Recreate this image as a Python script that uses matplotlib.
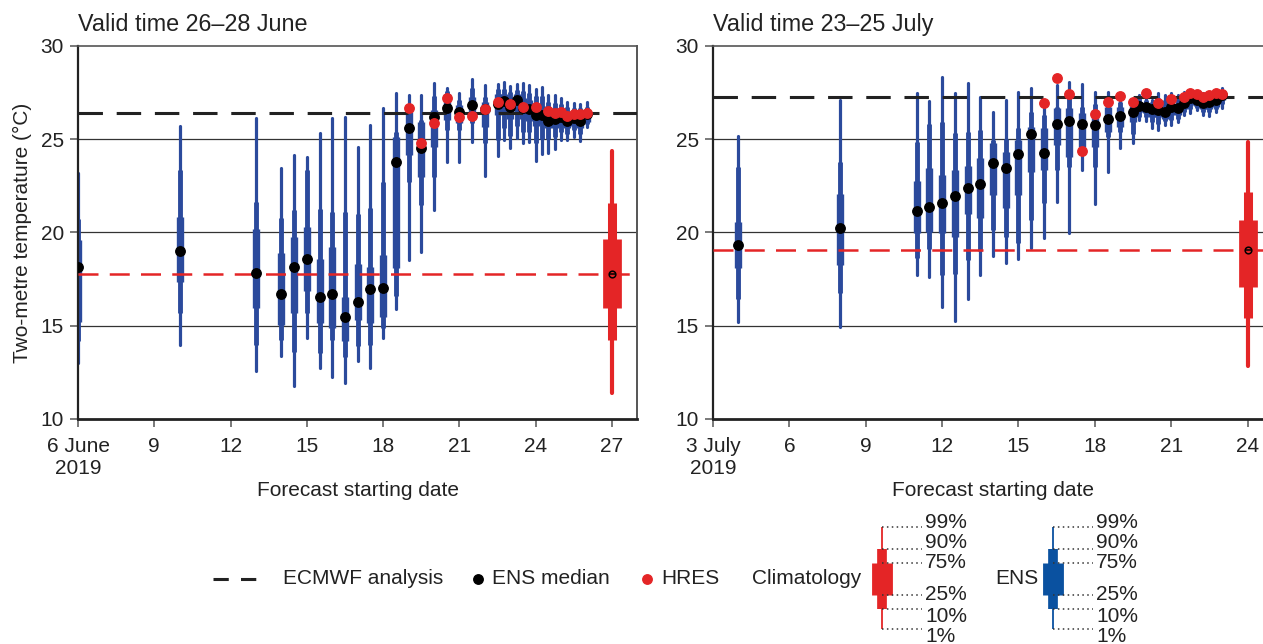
import matplotlib
matplotlib.use("Agg")
import matplotlib.pyplot as plt

plt.rcParams['font.family'] = ['Liberation Sans', 'DejaVu Sans']
plt.rcParams['text.color'] = '#222222'
plt.rcParams['axes.labelcolor'] = '#222222'
plt.rcParams['xtick.color'] = '#555555'
plt.rcParams['ytick.color'] = '#555555'
plt.rcParams['xtick.labelcolor'] = '#222222'
plt.rcParams['ytick.labelcolor'] = '#222222'

BLUE = '#2b4a9c'
RED = '#e42526'
LEG_BLUE = '#0a51a0'

# ---- June panel (valid 26-28 June) ----
jun_days = [6, 10, 13, 14, 14.5, 15, 15.5, 16, 16.5, 17, 17.5, 18, 18.5, 19, 19.5, 20,
            20.5, 21, 21.5, 22, 22.5, 22.75, 23, 23.25, 23.5, 23.75, 24, 24.25, 24.5,
            24.75, 25, 25.25, 25.5, 25.75, 26]
jun_p99 = [23.2, 25.73, 26.12, 23.44, 24.16, 24.07, 25.35, 26.16, 26.21, 24.6, 25.76, 26.66,
           27.5, 27.37, 27.37, 28.0, 27.73, 27.46, 28.21, 27.91, 27.96, 28.05, 27.86, 27.96,
           28.0, 27.91, 27.69, 27.78, 27.37, 27.37, 27.2, 27.0, 26.96, 26.89, 27.0]
jun_p90 = [20.7, 23.35, 21.65, 20.76, 21.2, 23.35, 21.26, 21.12, 21.12, 21.0, 21.3, 22.72,
           25.4, 26.8, 26.03, 27.3, 27.6, 27.1, 27.73, 27.28, 27.7, 27.7, 27.55, 27.65,
           27.6, 27.5, 27.3, 27.3, 27.0, 26.95, 26.9, 26.75, 26.7, 26.65, 26.75]
jun_p75 = [19.6, 20.85, 20.19, 18.92, 19.78, 20.31, 18.56, 19.2, 16.56, 18.3, 18.17, 18.79,
           25.1, 26.48, 25.94, 26.57, 27.4, 26.84, 27.28, 27.0, 27.4, 27.4, 27.2, 27.4,
           27.2, 27.1, 26.8, 26.8, 26.6, 26.6, 26.6, 26.45, 26.45, 26.4, 26.5]
jun_med = [18.17, 19.0, 17.85, 16.7, 18.15, 18.58, 16.56, 16.7, 15.49, 16.29, 16.99, 17.0,
           23.76, 25.59, 24.55, 26.21, 26.66, 26.48, 26.82, 26.6, 26.89, 27.05, 26.75, 27.1,
           26.66, 26.6, 26.3, 26.3, 26.0, 26.07, 26.18, 26.0, 26.12, 26.0, 26.34]
jun_p25 = [15.2, 17.36, 15.94, 15.04, 15.67, 16.86, 15.13, 14.86, 14.2, 15.3, 15.13, 15.45,
           18.1, 24.16, 22.99, 24.6, 26.03, 25.85, 26.12, 25.67, 26.3, 26.4, 26.1, 26.5,
           26.1, 26.0, 25.7, 25.8, 25.6, 25.6, 25.7, 25.6, 25.7, 25.6, 25.95]
jun_p10 = [14.2, 15.67, 13.97, 14.24, 13.61, 15.67, 13.56, 14.24, 13.31, 13.9, 13.97, 14.86,
           16.6, 22.72, 21.47, 23.0, 25.5, 25.5, 25.85, 24.78, 24.96, 25.6, 25.2, 25.7,
           25.4, 25.4, 24.8, 25.0, 25.0, 25.1, 25.4, 25.3, 25.5, 25.3, 25.8]
jun_p1 = [13.0, 13.97, 12.59, 13.4, 11.79, 14.33, 12.72, 12.27, 11.95, 13.11, 12.72, 14.33,
          15.88, 18.53, 18.97, 21.2, 23.8, 23.8, 24.87, 23.05, 24.1, 24.96, 24.51, 25.05,
          24.78, 24.87, 23.83, 24.21, 24.28, 24.46, 24.96, 24.96, 25.14, 24.92, 25.67]
jun_hres_days = [19, 19.5, 20, 20.5, 21, 21.5, 22, 22.5, 23, 23.5, 24, 24.5, 24.75, 25,
                 25.25, 25.5, 25.75, 26]
jun_hres = [26.66, 24.82, 25.85, 27.23, 26.18, 26.25, 26.6, 26.98, 26.89, 26.75, 26.71,
            26.5, 26.4, 26.48, 26.25, 26.36, 26.36, 26.4]
jun_clim = [11.41, 14.24, 15.97, 17.76, 19.63, 21.56, 24.39]  # 1,10,25,50,75,90,99
jun_clim_day = 27
jun_analysis = 26.43

# ---- July panel (valid 23-25 July) ----
jul_days = [4, 8, 11, 11.5, 12, 12.5, 13, 13.5, 14, 14.5, 15, 15.5, 16, 16.5, 17, 17.5, 18,
            18.5, 19, 19.5, 19.75, 20, 20.25, 20.5, 20.75, 21, 21.25, 21.5, 21.75, 22,
            22.25, 22.5, 22.75, 23]
jul_p99 = [25.17, 27.1, 27.46, 27.07, 28.36, 27.5, 28.03, 27.28, 26.48, 27.1, 27.55, 27.73,
           27.1, 27.91, 28.09, 27.96, 27.55, 27.55, 27.28, 27.1, 27.37, 27.28, 27.1, 27.46,
           27.37, 27.46, 27.37, 27.55, 27.64, 27.55, 27.46, 27.55, 27.55, 27.73]
jul_p90 = [23.53, 23.8, 24.87, 25.8, 25.94, 25.32, 25.4, 25.5, 24.96, 25.0, 25.59, 26.48,
           26.3, 26.75, 27.2, 26.75, 26.9, 27.1, 27.0, 26.95, 27.2, 27.1, 27.0, 27.2, 27.1,
           27.2, 27.15, 27.35, 27.45, 27.4, 27.3, 27.35, 27.4, 27.6]
jul_p75 = [20.58, 22.06, 22.76, 23.44, 23.08, 23.35, 23.57, 24.0, 24.78, 24.3, 24.96, 25.67,
           25.6, 26.66, 26.66, 26.4, 26.57, 26.75, 26.75, 26.8, 27.0, 26.95, 26.85, 26.85,
           26.8, 26.95, 26.9, 27.15, 27.35, 27.25, 27.15, 27.2, 27.25, 27.5]
jul_med = [19.33, 20.26, 21.15, 21.35, 21.56, 21.96, 22.37, 22.6, 23.7, 23.44, 24.21, 25.26,
           24.28, 25.82, 25.98, 25.8, 25.76, 26.07, 26.26, 26.48, 26.78, 26.75, 26.6, 26.57,
           26.48, 26.71, 26.66, 26.96, 27.2, 27.1, 26.93, 27.0, 27.1, 27.37]
jul_p25 = [18.08, 18.26, 19.99, 20.04, 19.99, 19.78, 20.99, 20.8, 22.0, 21.3, 22.01, 23.26,
           23.35, 24.7, 24.06, 24.6, 24.6, 25.4, 25.67, 25.9, 26.45, 26.4, 26.2, 26.2, 26.1,
           26.3, 26.3, 26.6, 26.85, 26.8, 26.6, 26.6, 26.75, 27.1]
jul_p10 = [16.42, 16.78, 18.62, 19.1, 17.72, 17.8, 18.53, 19.0, 20.13, 19.78, 19.42, 20.67,
           21.56, 23.35, 23.53, 24.24, 23.53, 25.14, 25.4, 25.3, 26.2, 26.2, 25.9, 25.8,
           26.0, 26.05, 26.1, 26.45, 26.6, 26.7, 26.45, 26.45, 26.6, 26.9]
jul_p1 = [15.2, 14.95, 17.7, 17.63, 16.02, 15.25, 16.42, 17.72, 18.74, 18.35, 18.56, 19.15,
          19.69, 21.65, 19.96, 23.35, 21.53, 23.26, 24.51, 24.78, 26.03, 26.0, 25.59, 25.5,
          25.76, 25.76, 25.94, 26.3, 26.39, 26.57, 26.3, 26.25, 26.48, 26.66]
jul_hres_days = [16, 16.5, 17, 17.5, 18, 18.5, 19, 19.5, 20, 20.5, 21, 21.5, 21.75, 22,
                 22.25, 22.5, 22.75, 23]
jul_hres = [26.96, 28.3, 27.41, 24.39, 26.36, 27.01, 27.32, 26.98, 27.46, 26.96, 27.16,
            27.28, 27.46, 27.43, 27.28, 27.37, 27.46, 27.43]
jul_clim = [12.84, 15.4, 17.06, 19.06, 20.67, 22.19, 24.87]
jul_clim_day = 24
jul_analysis = 27.28

jun_ticks = [6, 9, 12, 15, 18, 21, 24, 27]
jun_ticklabels = ['6 June\n2019', '9', '12', '15', '18', '21', '24', '27']
jul_ticks = [3, 6, 9, 12, 15, 18, 21, 24]
jul_ticklabels = ['3 July\n2019', '6', '9', '12', '15', '18', '21', '24']


def draw_panel(ax, days, p1, p10, p25, med, p75, p90, p99, hres_days, hres,
               clim, clim_day, analysis, xlim, ticks, ticklabels, title):
    ax.set_xlim(*xlim)
    ax.set_ylim(10, 30)
    for g in [15, 20, 25]:
        ax.axhline(g, color='#333333', lw=0.9, zorder=1)

    ax.vlines(days, p1, p99, color=BLUE, lw=2.3, capstyle='round', zorder=2)
    ax.vlines(days, p10, p90, color=BLUE, lw=3.5, capstyle='butt', zorder=2)
    ax.vlines(days, p25, p75, color=BLUE, lw=5.3, capstyle='butt', zorder=2)

    ax.vlines(clim_day, clim[0], clim[6], color=RED, lw=3.0, capstyle='round', zorder=2)
    ax.vlines(clim_day, clim[1], clim[5], color=RED, lw=6.5, capstyle='butt', zorder=2)
    ax.vlines(clim_day, clim[2], clim[4], color=RED, lw=13.5, capstyle='butt', zorder=2)

    ax.axhline(analysis, color='#222222', lw=2.2, dashes=(8, 4.5), zorder=3)
    ax.axhline(clim[3], color=RED, lw=1.8, dashes=(8, 4.5), zorder=3)

    ax.plot(days, med, 'o', color='black', ms=6.8, zorder=4)
    ax.plot(hres_days, hres, 'o', color=RED, ms=6.8, zorder=5)
    ax.plot(clim_day, clim[3], 'o', mfc='none', mec='black', mew=1.1, ms=4.8, zorder=6)
    ax.plot(clim_day, clim[3], '_', color='black', mew=1.1, ms=4.8, zorder=6)

    ax.set_yticks([10, 15, 20, 25, 30])
    ax.set_xticks(ticks)
    ax.set_xticklabels(ticklabels)
    ax.tick_params(direction='out', length=6, width=1.1, labelsize=15, pad=4)
    ax.tick_params(axis='x', pad=7)
    ax.spines['left'].set_linewidth(1.6)
    ax.spines['bottom'].set_linewidth(2.0)
    ax.spines['left'].set_color('#222222')
    ax.spines['bottom'].set_color('#222222')
    ax.spines['top'].set_linewidth(1.2)
    ax.spines['right'].set_linewidth(1.4)
    ax.spines['top'].set_color('#555555')
    ax.spines['right'].set_color('#555555')
    ax.set_xlabel('Forecast starting date', fontsize=15, labelpad=2)
    ax.set_title(title, fontsize=16.8, loc='left', pad=11)


fig = plt.figure(figsize=(12.63, 6.44), dpi=100)
W, H = 1263, 644
ax1 = fig.add_axes([78 / W, 1 - 419 / H, 559.4 / W, 373 / H])
ax2 = fig.add_axes([713 / W, 1 - 419 / H, 560 / W, 373 / H])

draw_panel(ax1, jun_days, jun_p1, jun_p10, jun_p25, jun_med, jun_p75, jun_p90, jun_p99,
           jun_hres_days, jun_hres, jun_clim, jun_clim_day, jun_analysis, (6, 28),
           jun_ticks, jun_ticklabels, 'Valid time 26\u201328 June')
draw_panel(ax2, jul_days, jul_p1, jul_p10, jul_p25, jul_med, jul_p75, jul_p90, jul_p99,
           jul_hres_days, jul_hres, jul_clim, jul_clim_day, jul_analysis, (3, 25),
           jul_ticks, jul_ticklabels, 'Valid time 23\u201325 July')
ax1.set_ylabel('Two-metre temperature (\u00b0C)', fontsize=15, labelpad=6)

# ---- legend drawn in pixel space ----
lg = fig.add_axes([0, 0, 1, 1], zorder=10)
lg.set_xlim(0, W)
lg.set_ylim(H, 0)
lg.axis('off')
ly = 579
lg.plot([213, 268], [ly, ly], color='#222222', lw=2.2, dashes=(5, 4))
lg.text(283, ly, 'ECMWF analysis', fontsize=15, va='center')
lg.plot(478, ly, 'o', color='black', ms=6.8)
lg.text(492, ly, 'ENS median', fontsize=15, va='center')
lg.plot(647, ly, 'o', color=RED, ms=6.8)
lg.text(661, ly, 'HRES', fontsize=15, va='center')
lg.text(752, ly, 'Climatology', fontsize=15, va='center')
lg.text(995, ly, 'ENS', fontsize=15, va='center')

pct_labels = ['99%', '90%', '75%', '25%', '10%', '1%']
leader_y = [527, 549, 562.5, 594.5, 609, 629]
label_y = [522, 543, 562, 594, 616, 636]
for gx, col, lx in [(882, RED, 925), (1053, LEG_BLUE, 1096)]:
    lg.vlines(gx, leader_y[0], leader_y[5], color=col, lw=1.3)
    lg.vlines(gx, leader_y[1], leader_y[4], color=col, lw=7.0)
    lg.vlines(gx, leader_y[2], leader_y[3], color=col, lw=15.0)
    for yy, ty, lab in zip(leader_y, label_y, pct_labels):
        lg.plot([gx, lx - 3], [yy, yy], color='#333333', lw=1.1, ls=(0, (1, 2.2)))
        lg.text(lx, ty, lab, fontsize=15, va='center')

fig.savefig('out.png', dpi=100)
